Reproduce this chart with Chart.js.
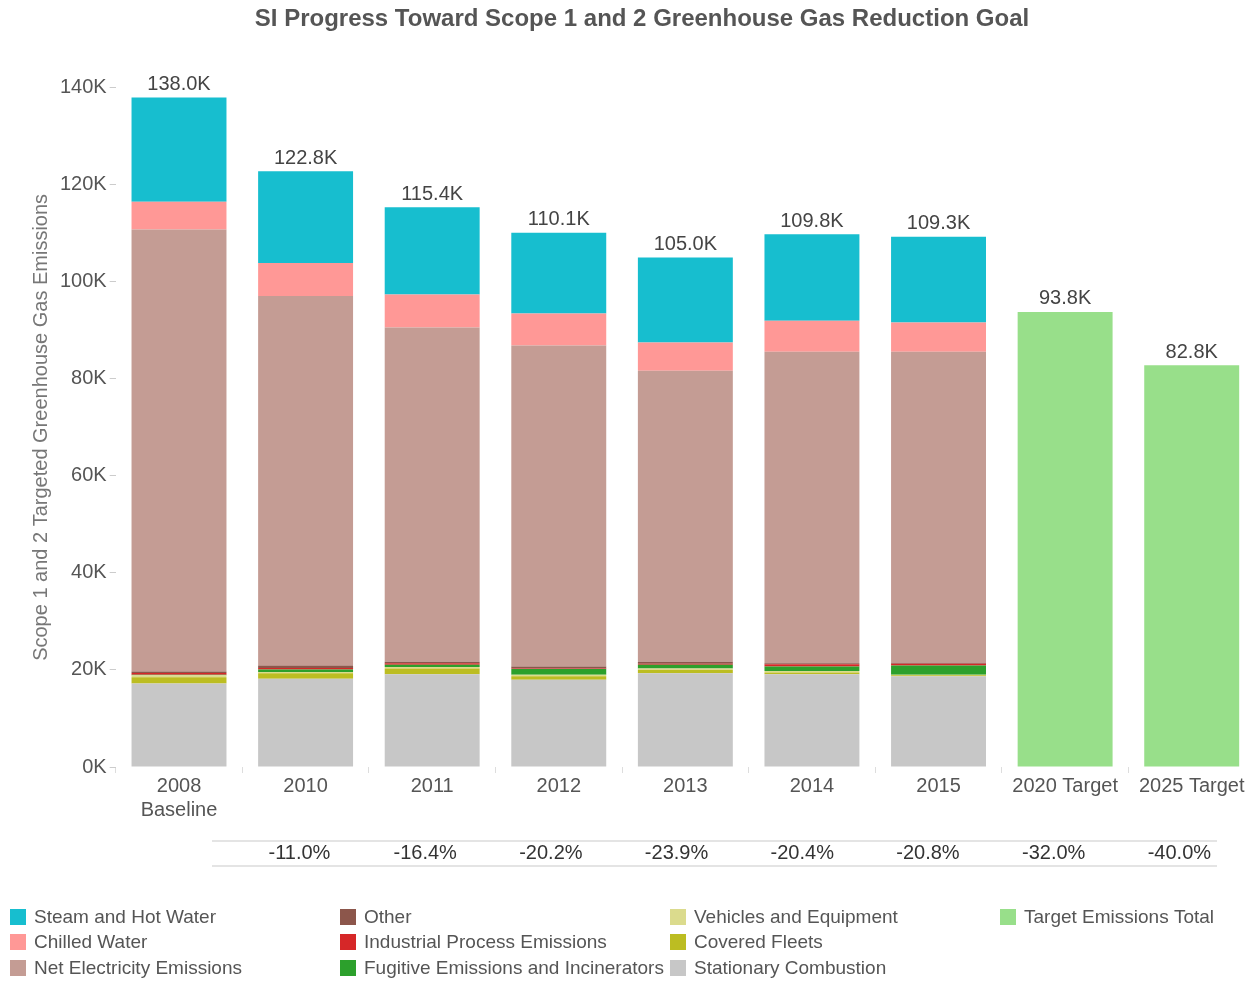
<!DOCTYPE html>
<html>
<head>
<meta charset="utf-8">
<script src="https://cdn.jsdelivr.net/npm/chart.js@4"></script>
<style>
  html, body { margin: 0; padding: 0; background: #fff; }
  #wrap { width: 1255px; height: 981px; position: relative; }
</style>
</head>
<body>
<div id="wrap"><canvas id="ghgChart"></canvas></div>
<script>
// categories (x axis)
const categories = [['2008', 'Baseline'], '2010', '2011', '2012', '2013', '2014', '2015', '2020 Target', '2025 Target'];

// emissions by source, thousands (bottom of stack first)
const stationaryCombustion = [17.2, 18.2, 19.1, 18.0, 19.3, 19.1, 18.7, null, null];
const coveredFleets        = [1.3, 1.1, 1.2, 0.7, 0.7, 0.4, 0.2, null, null];
const vehiclesEquipment    = [0.4, 0.3, 0.3, 0.3, 0.3, 0.3, 0.1, null, null];
const fugitiveEmissions    = [0.1, 0.5, 0.5, 1.2, 0.8, 0.9, 1.9, null, null];
const industrialProcess    = [0.4, 0.3, 0.3, 0.1, 0.2, 0.5, 0.4, null, null];
const otherEmissions       = [0.3, 0.5, 0.3, 0.4, 0.4, 0.2, 0.2, null, null];
const netElectricity       = [91.1, 76.2, 68.9, 66.2, 60.0, 64.2, 64.1, null, null];
const chilledWater         = [5.7, 6.8, 6.8, 6.6, 5.8, 6.4, 6.0, null, null];
const steamHotWater        = [21.5, 18.9, 18.0, 16.6, 17.5, 17.8, 17.7, null, null];
const targetTotal          = [null, null, null, null, null, null, null, 93.8, 82.8];

// change vs. baseline row (under the axis)
const changeLabels = ['', '-11.0%', '-16.4%', '-20.2%', '-23.9%', '-20.4%', '-20.8%', '-32.0%', '-40.0%'];

// y axis ticks
const yTicks = [0, 20, 40, 60, 80, 100, 120, 140];

const fontFam = 'Arial, "Liberation Sans", sans-serif';

// legend order (column by column)
const legendOrder = [
    'Steam and Hot Water', 'Chilled Water', 'Net Electricity Emissions',
    'Other', 'Industrial Process Emissions', 'Fugitive Emissions and Incinerators',
    'Vehicles and Equipment', 'Covered Fleets', 'Stationary Combustion',
    'Target Emissions Total'
];

function ds(label, data, color) {
    return { label: label, data: data, backgroundColor: color, borderWidth: 0, stack: 's' };
}

// totals above each bar
const totalLabels = {
    id: 'totalLabels',
    afterDatasetsDraw(chart) {
        const ctx = chart.ctx;
        const y = chart.scales.y;
        const x = chart.scales.x;
        ctx.save();
        ctx.font = '20px ' + fontFam;
        ctx.fillStyle = '#444';
        ctx.textAlign = 'center';
        ctx.textBaseline = 'bottom';
        categories.forEach((c, i) => {
            let total = 0;
            chart.data.datasets.forEach(d => { if (d.data[i] != null) total += d.data[i]; });
            ctx.fillText(total.toFixed(1) + 'K', x.getPixelForValue(i), y.getPixelForValue(total) - 3);
        });
        ctx.restore();
    }
};

// percent row + legend
const extras = {
    id: 'extras',
    afterDraw(chart) {
        const ctx = chart.ctx;
        const x = chart.scales.x;
        ctx.save();
        // table lines
        ctx.strokeStyle = '#dcdcdc';
        ctx.lineWidth = 1.5;
        ctx.beginPath();
        ctx.moveTo(212, 841); ctx.lineTo(1217, 841);
        ctx.moveTo(212, 866); ctx.lineTo(1217, 866);
        ctx.stroke();
        ctx.font = '20px ' + fontFam;
        ctx.fillStyle = '#333';
        ctx.textAlign = 'center';
        ctx.textBaseline = 'middle';
        changeLabels.forEach((t, i) => {
            if (!t) return;
            ctx.fillText(t, x.getPixelForValue(i) * 0.993 - 4, 853);
        });
        // legend
        const colX = [10, 340, 670, 1000];
        const rowY = [917, 942, 968];
        ctx.font = '19px ' + fontFam;
        ctx.textAlign = 'left';
        legendOrder.forEach((name, k) => {
            const d = chart.data.datasets.find(s => s.label === name);
            const cx = colX[Math.floor(k / 3)];
            const cy = rowY[k % 3];
            ctx.fillStyle = d.backgroundColor;
            ctx.fillRect(cx, cy - 8, 16, 16);
            ctx.fillStyle = '#555';
            ctx.fillText(name, cx + 24, cy + 1);
        });
        ctx.restore();
    }
};

new Chart(document.getElementById('ghgChart'), {
    type: 'bar',
    data: {
        labels: categories,
        datasets: [
            ds('Stationary Combustion', stationaryCombustion, '#c7c7c7'),
            ds('Covered Fleets', coveredFleets, '#bcbd22'),
            ds('Vehicles and Equipment', vehiclesEquipment, '#dbdb8d'),
            ds('Fugitive Emissions and Incinerators', fugitiveEmissions, '#2ca02c'),
            ds('Industrial Process Emissions', industrialProcess, '#d62728'),
            ds('Other', otherEmissions, '#8c564b'),
            ds('Net Electricity Emissions', netElectricity, '#c49c94'),
            ds('Chilled Water', chilledWater, '#ff9896'),
            ds('Steam and Hot Water', steamHotWater, '#17becf'),
            ds('Target Emissions Total', targetTotal, '#98df8a')
        ]
    },
    options: {
        responsive: true,
        maintainAspectRatio: false,
        animation: false,
        datasets: { bar: { barPercentage: 0.75, categoryPercentage: 1.0 } },
        layout: { padding: { top: 0, right: 0, left: 29, bottom: 158 } },
        plugins: {
            legend: { display: false },
            tooltip: { enabled: false },
            title: {
                display: true,
                text: 'SI Progress Toward Scope 1 and 2 Greenhouse Gas Reduction Goal',
                color: '#555',
                font: { family: fontFam, size: 24, weight: 'bold' },
                padding: { top: 5, bottom: 54 }
            }
        },
        scales: {
            x: {
                stacked: true,
                grid: { display: true, offset: true, drawOnChartArea: false, color: '#ddd', tickLength: 6 },
                border: { display: false },
                ticks: { color: '#555', font: { family: fontFam, size: 20 }, padding: 1, maxRotation: 0, autoSkip: false }
            },
            y: {
                stacked: true,
                min: 0,
                max: 140,
                afterBuildTicks: (axis) => { axis.ticks = yTicks.map(v => ({ value: v })); },
                grid: { drawOnChartArea: false, color: '#ccc', tickLength: 6 },
                border: { display: false },
                ticks: { color: '#555', font: { family: fontFam, size: 20 }, padding: 3, callback: v => v + 'K' },
                title: {
                    display: true,
                    text: 'Scope 1 and 2 Targeted Greenhouse Gas Emissions',
                    color: '#777',
                    font: { family: fontFam, size: 20 },
                    padding: { top: 0, bottom: 4 }
                }
            }
        }
    },
    plugins: [totalLabels, extras]
});
</script>
</body>
</html>
